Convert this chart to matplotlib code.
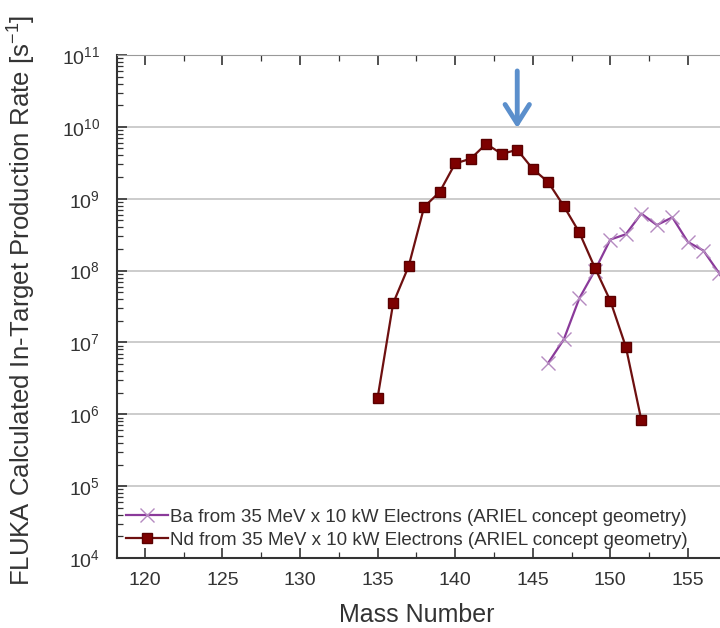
import matplotlib
matplotlib.use("Agg")
import matplotlib.pyplot as plt
from matplotlib.ticker import MultipleLocator, LogLocator, NullFormatter

plt.rcParams['font.family'] = ['Liberation Sans', 'DejaVu Sans']
plt.rcParams['mathtext.fontset'] = 'custom'
plt.rcParams['mathtext.rm'] = 'Liberation Sans'
plt.rcParams['mathtext.it'] = 'Liberation Sans:italic'
plt.rcParams['mathtext.bf'] = 'Liberation Sans:bold'

# Nd production rates vs mass number
nd_mass = [135, 136, 137, 138, 139, 140, 141, 142, 143, 144, 145, 146, 147, 148, 149, 150, 151, 152]
nd_rate = [1.7e6, 3.5e7, 1.15e8, 7.7e8, 1.24e9, 3.1e9, 3.6e9, 5.8e9, 4.2e9, 4.8e9,
           2.6e9, 1.7e9, 7.9e8, 3.4e8, 1.1e8, 3.8e7, 8.7e6, 8.3e5]

# Ba production rates vs mass number
ba_mass = [146, 147, 148, 149, 150, 151, 152, 153, 154, 155, 156, 157, 158]
ba_rate = [5.2e6, 1.1e7, 4.1e7, 1.0e8, 2.7e8, 3.2e8, 6.2e8, 4.3e8, 5.5e8, 2.5e8, 1.9e8, 9.3e7, 4.0e7]

ba_label = "Ba from 35 MeV x 10 kW Electrons (ARIEL concept geometry)"
nd_label = "Nd from 35 MeV x 10 kW Electrons (ARIEL concept geometry)"
arrow_mass = 144

fig = plt.figure(figsize=(7.2, 6.28), dpi=100)
ax = fig.add_axes([117/720, 70/628, 623/720, 503/628])

ax.plot(ba_mass, ba_rate, color='#8a3a9a', lw=1.6, marker='x', ms=10, mew=1.0,
        mec='#b58ac0', label=ba_label, zorder=3)
ax.plot(nd_mass, nd_rate, color='#6e1010', lw=1.6, marker='s', ms=7,
        mfc='#7d0000', mec='#5a0000', label=nd_label, zorder=4)

ax.set_yscale('log')
ax.set_ylim(1e4, 1e11)
ax.set_xlim(118.2, 158.36)

ax.xaxis.set_major_locator(MultipleLocator(5))
ax.xaxis.set_minor_locator(MultipleLocator(2.5))
ax.yaxis.set_major_locator(LogLocator(base=10, numticks=20))
ax.yaxis.set_minor_locator(LogLocator(base=10, subs=range(2, 10), numticks=100))
ax.yaxis.set_minor_formatter(NullFormatter())

ax.tick_params(which='both', direction='in', top=True, right=False, labelsize=14, colors='#333333')
ax.tick_params(which='major', length=7, width=1.2)
ax.tick_params(which='minor', length=4, width=0.9)
ax.tick_params(axis='x', which='major', pad=10)
ax.tick_params(axis='y', which='major', pad=12)

ax.grid(axis='y', which='major', color='#c8c8c8', lw=1.3)
ax.set_axisbelow(True)

for side in ['left', 'bottom']:
    ax.spines[side].set_linewidth(1.5)
    ax.spines[side].set_color('#333333')
ax.spines['top'].set_color('#999999')
ax.spines['right'].set_visible(False)

ax.set_xlabel('Mass Number', fontsize=18, color='#333333')
ax.set_ylabel('FLUKA Calculated In-Target Production Rate [s$^{-1}$]', fontsize=18.5,
              color='#333333')
ax.xaxis.set_label_coords((417 - 117) / 623, -45 / 503)
ax.yaxis.set_label_coords((22 - 117) / 623, (558 - 300) / 503)
ax.yaxis.label.set_va('center')

leg = ax.legend(loc='lower left', frameon=False, fontsize=13.5, handlelength=2.2,
                handletextpad=0.15, borderaxespad=0.1, labelspacing=0.3,
                bbox_to_anchor=(0.0, 0.0))
for t in leg.get_texts():
    t.set_color('#333333')

ax.annotate('', xy=(arrow_mass, 9.6e9), xytext=(arrow_mass, 6e10),
            arrowprops=dict(arrowstyle='->,head_length=0.55,head_width=0.35',
                            color='#5b8fcc', lw=3.5, mutation_scale=25,
                            shrinkA=0, shrinkB=0),
            zorder=5)

fig.savefig('out.png', dpi=100)
